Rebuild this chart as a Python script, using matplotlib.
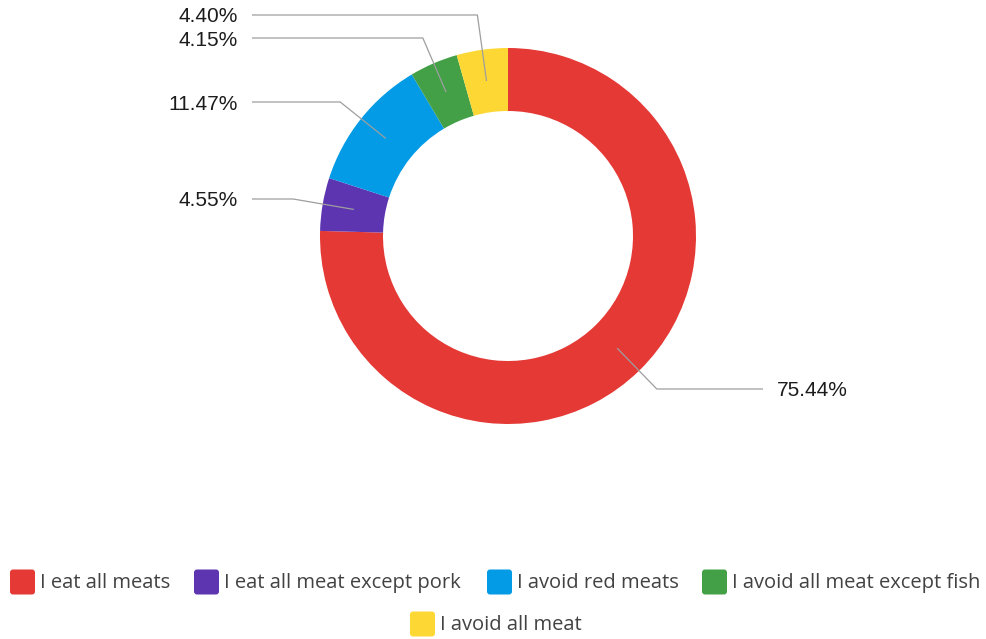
import numpy as np
import matplotlib.pyplot as plt
from matplotlib.patches import FancyBboxPatch

plt.rcParams['font.family'] = ['Open Sans', 'DejaVu Sans']

categories = ["I eat all meats", "I eat all meat except pork", "I avoid red meats",
              "I avoid all meat except fish", "I avoid all meat"]
shares = [75.44, 4.55, 11.47, 4.15, 4.40]
colors = ["#E53935", "#5E35B1", "#039BE5", "#43A047", "#FDD835"]

W, H = 987, 639
fig = plt.figure(figsize=(W / 100, H / 100), dpi=100)
ax = fig.add_axes([0, 0, 1, 1])

# donut geometry in pixel units (y measured from the bottom)
cx, cy = 508, H - 236
r_out, r_in = 188, 125

ax.pie(shares, colors=colors, startangle=90, counterclock=False,
       center=(cx, cy), radius=r_out,
       wedgeprops=dict(width=r_out - r_in, linewidth=0))

# callout labels: the line starts mid-ring, runs radially to the label row, then flat
label_rows = [389, 199, 102, 38, 15]   # pixel row of each label, top = 0
r_mid = (r_out + r_in) / 2
cum = np.cumsum([0] + shares[:-1])
for share, start, row in zip(shares, cum, label_rows):
    ang = np.deg2rad(90 - 3.6 * (start + share / 2))
    dx, dy = np.cos(ang), np.sin(ang)
    x0, y0 = cx + r_mid * dx, cy + r_mid * dy
    ly = H - row
    t = (ly - y0) / dy
    ex = x0 + t * dx
    if dx > 0:
        xs = [x0, ex, 763]
        tx, ha = 777, 'left'
    else:
        xs = [x0, ex, 252]
        tx, ha = 238, 'right'
    ax.plot(xs, [y0, ly, ly], color='#9e9e9e', lw=0.9, solid_capstyle='butt')
    ax.text(tx, ly - 2, f"{share:.2f}%", ha=ha, va='center', fontsize=15,
            family=['Liberation Sans', 'DejaVu Sans'], color='#1c1c1c')

# legend, laid out by hand in two centred rows
swatch_x = [10, 194, 487, 702, 410]
swatch_row = [582, 582, 582, 582, 624]
for name, col, sx, row in zip(categories, colors, swatch_x, swatch_row):
    ax.add_patch(FancyBboxPatch((sx + 3, H - row - 9.5), 19, 19,
                                boxstyle="round,pad=3", fc=col, ec='none'))
    ax.text(sx + 30, H - row - 1, name, ha='left', va='center', fontsize=14.5,
            color='#424242')

ax.set_xlim(0, W)
ax.set_ylim(0, H)
ax.set_aspect('auto')
ax.axis('off')

fig.savefig('out.png', dpi=100)
